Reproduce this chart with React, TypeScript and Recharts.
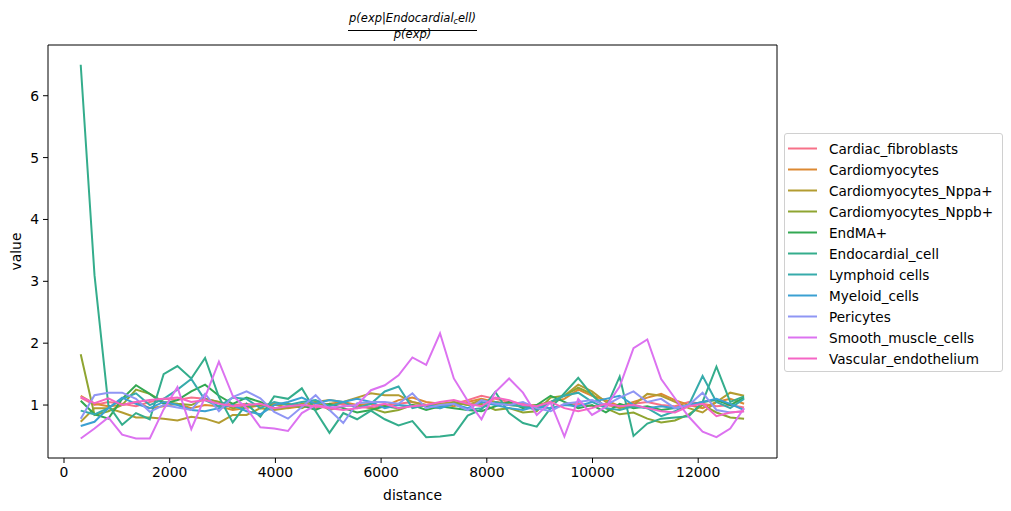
import React from 'react';
import { LineChart, Line, XAxis, YAxis, ReferenceLine } from 'recharts';

const distance = [316, 577, 839, 1100, 1362, 1623, 1885, 2146, 2408, 2669, 2931, 3192, 3454, 3715, 3977, 4238, 4500, 4761, 5023, 5284, 5546, 5807, 6069, 6330, 6592, 6853, 7115, 7376, 7638, 7899, 8161, 8422, 8684, 8945, 9207, 9468, 9730, 9991, 10253, 10514, 10776, 11037, 11299, 11560, 11822, 12083, 12345, 12606, 12868];

const cardiacFibroblasts = [1.12, 1.0, 1.05, 1.02, 0.98, 1.05, 1.1, 1.08, 1.12, 1.1, 1.05, 1.0, 1.02, 0.98, 1.0, 1.02, 0.98, 0.95, 1.0, 1.02, 0.98, 0.95, 1.0, 1.02, 1.05, 1.0, 0.98, 1.02, 1.08, 1.15, 1.1, 1.05, 1.02, 0.98, 0.95, 1.0, 1.02, 0.98, 1.0, 0.96, 1.02, 1.05, 1.0, 0.98, 1.05, 1.02, 0.98, 1.0, 0.96];
const cardiomyocytes = [1.15, 1.02, 0.98, 1.0, 1.05, 0.95, 0.98, 1.02, 0.95, 1.0, 0.98, 0.92, 0.95, 1.0, 1.02, 0.95, 0.98, 1.0, 1.02, 1.05, 1.0, 1.02, 0.98, 1.08, 1.12, 1.05, 1.02, 0.98, 1.05, 1.1, 1.05, 1.02, 0.98, 1.0, 1.05, 1.1, 1.25, 1.15, 1.08, 0.98, 1.05, 1.12, 1.18, 1.08, 1.0, 0.95, 1.05, 1.1, 1.02];
const cardiomyocytesNppa = [0.73, 0.95, 0.95, 0.88, 0.8, 0.8, 0.78, 0.75, 0.81, 0.78, 0.71, 0.84, 0.84, 0.95, 0.92, 0.95, 1.02, 1.05, 1.08, 1.05, 1.12, 1.19, 1.16, 1.16, 1.05, 1.0, 1.02, 1.05, 1.0, 1.08, 1.05, 1.0, 0.98, 0.95, 1.05, 1.15, 1.33, 1.22, 1.05, 0.95, 1.0, 1.18, 1.15, 1.05, 0.95, 0.88, 1.05, 1.2, 1.15];
const cardiomyocytesNppb = [1.82, 0.84, 0.9, 1.0, 1.25, 1.18, 1.05, 1.02, 1.0, 1.1, 1.05, 0.95, 0.98, 1.0, 1.0, 1.02, 0.95, 1.05, 0.92, 0.98, 1.0, 0.95, 0.88, 0.92, 1.0, 0.98, 0.95, 1.05, 1.0, 1.02, 0.92, 0.95, 0.88, 0.9, 1.12, 1.15, 1.28, 1.18, 0.95, 0.85, 0.88, 0.78, 0.72, 0.75, 0.85, 1.0, 0.88, 0.8, 0.78];
const endMA = [1.07, 0.85, 0.78, 1.1, 1.32, 1.18, 1.02, 1.08, 1.22, 1.33, 1.15, 1.02, 1.12, 1.05, 0.95, 0.98, 1.0, 0.92, 1.02, 0.95, 0.88, 0.92, 0.98, 0.95, 1.0, 0.92, 0.98, 0.95, 0.92, 0.9, 0.98, 1.05, 0.95, 1.0, 1.15, 1.05, 0.95, 1.0, 0.88, 1.02, 0.95, 0.98, 0.92, 0.95, 1.0, 1.05, 1.08, 1.0, 1.12];
const endocardialCell = [6.5, 3.1, 1.0, 0.68, 0.87, 0.77, 1.5, 1.63, 1.43, 1.76, 1.13, 0.72, 1.02, 0.81, 1.14, 1.1, 1.27, 0.9, 0.55, 0.87, 0.77, 0.91, 0.77, 0.67, 0.74, 0.48, 0.49, 0.52, 0.83, 0.93, 1.21, 0.87, 0.71, 0.65, 0.95, 1.19, 1.44, 1.16, 0.95, 1.46, 0.5, 0.7, 0.78, 0.8, 0.82, 1.05, 1.62, 1.05, 1.14];
const lymphoidCells = [0.91, 0.85, 0.95, 1.1, 1.19, 1.0, 1.1, 1.25, 1.42, 1.08, 0.98, 1.12, 1.1, 0.95, 1.05, 1.0, 1.05, 1.08, 0.98, 1.05, 0.95, 1.02, 1.22, 1.3, 0.95, 1.0, 0.98, 1.02, 0.92, 0.95, 1.05, 1.0, 0.98, 0.92, 1.05, 1.15, 1.2, 1.05, 0.95, 0.92, 0.98, 0.95, 0.82, 0.9, 1.0, 1.47, 1.05, 0.95, 1.1];
const myeloidCells = [0.66, 0.73, 0.95, 1.12, 1.02, 0.95, 1.05, 1.0, 0.92, 0.9, 0.95, 1.0, 0.9, 0.85, 1.0, 1.05, 1.12, 1.02, 1.08, 1.05, 1.1, 1.05, 0.95, 1.0, 0.98, 1.0, 0.95, 1.02, 0.95, 1.05, 1.0, 0.95, 0.92, 0.98, 0.95, 1.0, 0.98, 1.05, 1.1, 1.15, 1.0, 0.95, 0.98, 0.95, 1.0, 1.05, 1.1, 1.02, 0.92];
const pericytes = [0.78, 1.16, 1.2, 1.2, 1.1, 0.89, 1.0, 0.96, 0.92, 1.18, 0.9, 1.13, 1.22, 1.11, 0.89, 0.78, 0.97, 1.16, 0.92, 0.71, 1.03, 1.05, 1.05, 1.02, 1.19, 0.95, 1.0, 1.02, 0.92, 1.08, 1.02, 1.0, 1.05, 0.95, 0.9, 1.02, 1.05, 1.08, 1.0, 1.12, 1.22, 1.05, 1.1, 0.95, 1.0, 1.2, 0.92, 0.88, 0.9];
const smoothMuscleCells = [0.46, 0.62, 0.8, 0.52, 0.46, 0.46, 0.93, 1.29, 0.61, 1.13, 1.7, 1.15, 0.95, 0.64, 0.62, 0.58, 0.87, 1.0, 0.96, 0.98, 1.0, 1.24, 1.32, 1.48, 1.77, 1.65, 2.16, 1.43, 1.07, 0.77, 1.21, 1.43, 1.2, 0.84, 1.04, 0.49, 1.1, 0.84, 0.97, 1.3, 1.92, 2.06, 1.42, 1.11, 0.81, 0.57, 0.48, 0.62, 0.95];
const vascularEndothelium = [1.13, 1.03, 1.11, 1.0, 1.05, 1.08, 1.1, 1.12, 1.05, 1.08, 1.02, 0.98, 1.0, 1.02, 0.95, 0.98, 1.0, 0.98, 0.95, 0.92, 0.95, 0.98, 1.02, 0.95, 0.98, 1.0, 1.05, 1.08, 1.02, 0.98, 1.12, 1.08, 1.0, 0.98, 1.05, 0.95, 0.9, 0.95, 1.02, 0.98, 1.0, 0.95, 0.9, 0.88, 0.98, 1.02, 0.82, 0.88, 0.9];

const seriesNames = ['Cardiac_fibroblasts', 'Cardiomyocytes', 'Cardiomyocytes_Nppa+', 'Cardiomyocytes_Nppb+', 'EndMA+', 'Endocardial_cell', 'Lymphoid cells', 'Myeloid_cells', 'Pericytes', 'Smooth_muscle_cells', 'Vascular_endothelium'];
const seriesValues = [cardiacFibroblasts, cardiomyocytes, cardiomyocytesNppa, cardiomyocytesNppb, endMA, endocardialCell, lymphoidCells, myeloidCells, pericytes, smoothMuscleCells, vascularEndothelium];
const seriesColors = ['#f77189', '#dc8932', '#b39c31', '#8fa531', '#33a852', '#34ad8c', '#36abab', '#3aa0d2', '#8f96f4', '#dc72f0', '#f565c5'];

const xTicks = [0, 2000, 4000, 6000, 8000, 10000, 12000];
const yTicks = [1, 2, 3, 4, 5, 6];

const data = distance.map((d, i) => {
  const row: Record<string, number> = { distance: d };
  seriesNames.forEach((n, k) => {
    row[n] = seriesValues[k][i];
  });
  return row;
});

const FONT = 'DejaVu Sans, sans-serif';
const xDomain = [-303, 13491];
const yDomain = [0.144, 6.82];

export default function App() {
  return (
    <div style={{ position: 'absolute', left: 0, top: 0, width: 1011, height: 511, background: '#fff', fontFamily: FONT }}>
      <LineChart width={1011} height={511} data={data} margin={{ top: 45, right: 234, bottom: 0, left: 8 }} style={{ fontFamily: FONT }}>
        <XAxis
          dataKey="distance"
          type="number"
          domain={xDomain}
          ticks={xTicks}
          allowDataOverflow
          height={53}
          tickSize={5}
          tickMargin={4}
          stroke="#000"
          tick={{ fill: '#000', fontSize: 13.9, fontFamily: FONT }}
          label={{ value: 'distance', position: 'insideBottom', offset: 11, fill: '#000', fontSize: 13.9, fontFamily: FONT }}
        />
        <YAxis
          type="number"
          domain={yDomain}
          ticks={yTicks}
          allowDataOverflow
          width={40}
          tickSize={5}
          tickMargin={4}
          stroke="#000"
          tick={{ fill: '#000', fontSize: 13.9, fontFamily: FONT }}
          label={{
            content: () => (
              <text x={16} y={251.5} transform="rotate(-90 16 251.5)" textAnchor="middle" dominantBaseline="central" fill="#000" fontSize={13.9} fontFamily={FONT}>
                value
              </text>
            ),
          }}
        />
        <ReferenceLine y={yDomain[1]} stroke="#000" strokeWidth={1} ifOverflow="extendDomain" />
        <ReferenceLine x={xDomain[1]} stroke="#000" strokeWidth={1} ifOverflow="extendDomain" />
        {seriesNames.map((n, k) => (
          <Line
            key={n}
            type="linear"
            dataKey={n}
            name={n}
            stroke={seriesColors[k]}
            strokeWidth={2}
            dot={false}
            activeDot={false}
            isAnimationActive={false}
          />
        ))}
      </LineChart>

      <div style={{ position: 'absolute', left: 0, width: 825, top: 12, textAlign: 'center', fontStyle: 'italic', fontSize: 11.5, color: '#000', lineHeight: '13px' }}>
        <span style={{ display: 'inline-block', borderBottom: '1px solid #000', padding: '0 1px 2px 1px' }}>
          p(exp|Endocardial<sub style={{ fontSize: 8, verticalAlign: '-2px' }}>c</sub>ell)
        </span>
      </div>
      <div style={{ position: 'absolute', left: 0, width: 825, top: 28, textAlign: 'center', fontStyle: 'italic', fontSize: 11.5, color: '#000', lineHeight: '13px' }}>
        p(exp)
      </div>

      <div style={{ position: 'absolute', left: 784, top: 133, width: 219, padding: '4px 0 2px 0', border: '1px solid #d0d0d0', borderRadius: 3, background: '#fff', boxSizing: 'border-box' }}>
        {seriesNames.map((n, k) => (
          <div key={n} style={{ height: 21, display: 'flex', alignItems: 'center' }}>
            <svg width={40} height={21} style={{ flex: 'none' }}>
              <line x1={3} x2={32} y1={10.5} y2={10.5} stroke={seriesColors[k]} strokeWidth={2} />
            </svg>
            <span style={{ fontSize: 13.6, color: '#000', marginLeft: 4, whiteSpace: 'nowrap' }}>{n}</span>
          </div>
        ))}
      </div>
    </div>
  );
}
